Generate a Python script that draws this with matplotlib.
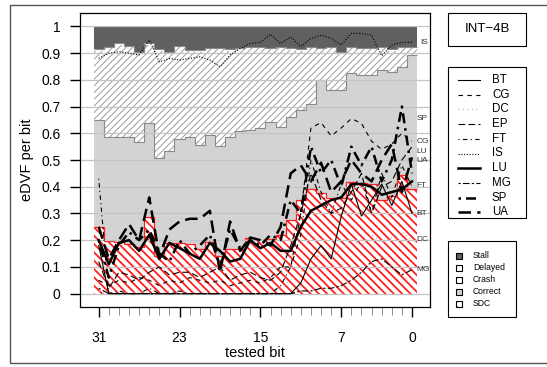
import numpy as np
import matplotlib.pyplot as plt
from matplotlib.patches import Rectangle
from matplotlib.lines import Line2D

plt.rcParams['font.family'] = ['Liberation Sans', 'DejaVu Sans']

# bits shown left to right
bits = np.arange(31, -1, -1)

# outcome fractions per bit, stacked bottom to top
sdc = [0.250, 0.197, 0.195, 0.187, 0.175, 0.287, 0.140, 0.190, 0.191, 0.185, 0.168,
       0.193, 0.140, 0.168, 0.168, 0.210, 0.200, 0.205, 0.218, 0.275, 0.350, 0.393,
       0.377, 0.356, 0.356, 0.418, 0.415, 0.409, 0.352, 0.364, 0.443, 0.393]
correct = [0.399, 0.390, 0.392, 0.400, 0.393, 0.352, 0.366, 0.344, 0.389, 0.402, 0.387,
           0.400, 0.413, 0.419, 0.441, 0.404, 0.418, 0.438, 0.406, 0.386, 0.337, 0.318,
           0.423, 0.405, 0.405, 0.406, 0.403, 0.409, 0.484, 0.466, 0.406, 0.500]
crash = [0.260, 0.332, 0.344, 0.335, 0.332, 0.292, 0.403, 0.366, 0.341, 0.319, 0.350,
         0.322, 0.362, 0.322, 0.306, 0.305, 0.301, 0.272, 0.295, 0.252, 0.222, 0.208,
         0.115, 0.158, 0.139, 0.095, 0.097, 0.097, 0.083, 0.079, 0.070, 0.026]
delayed = [0.005, 0.005, 0.005, 0.005, 0.005, 0.005, 0.005, 0.005, 0.005, 0.005, 0.005,
           0.005, 0.005, 0.005, 0.005, 0.005, 0.005, 0.005, 0.005, 0.005, 0.005, 0.005,
           0.005, 0.005, 0.005, 0.005, 0.005, 0.005, 0.005, 0.005, 0.005, 0.005]
stall = [0.086, 0.076, 0.064, 0.073, 0.095, 0.064, 0.086, 0.095, 0.074, 0.089, 0.090,
         0.080, 0.080, 0.086, 0.080, 0.076, 0.076, 0.080, 0.076, 0.082, 0.086, 0.076,
         0.080, 0.076, 0.095, 0.076, 0.080, 0.080, 0.076, 0.086, 0.076, 0.076]

# per-benchmark eDVF per bit
BT = [0.18, 0.0, 0.0, 0.0, 0.0, 0.0, 0.0, 0.0, 0.0, 0.0, 0.0, 0.0, 0.0, 0.0, 0.0, 0.0,
      0.0, 0.0, 0.0, 0.0, 0.04, 0.13, 0.18, 0.13, 0.29, 0.41, 0.29, 0.35, 0.41, 0.33, 0.42, 0.30]
CG = [0.05, 0.03, 0.05, 0.04, 0.06, 0.05, 0.03, 0.05, 0.04, 0.06, 0.05, 0.04, 0.05, 0.03, 0.04, 0.05,
      0.04, 0.06, 0.10, 0.10, 0.30, 0.62, 0.64, 0.59, 0.62, 0.655, 0.637, 0.57, 0.54, 0.56, 0.60, 0.57]
DC = [0.01, 0.0, 0.01, 0.0, 0.01, 0.0, 0.0, 0.01, 0.0, 0.0, 0.01, 0.0, 0.0, 0.0, 0.01, 0.0,
      0.0, 0.0, 0.02, 0.05, 0.08, 0.12, 0.15, 0.13, 0.17, 0.20, 0.18, 0.22, 0.19, 0.21, 0.23, 0.20]
EP = [0.12, 0.02, 0.08, 0.07, 0.05, 0.08, 0.10, 0.07, 0.08, 0.08, 0.06, 0.08, 0.10, 0.05, 0.07, 0.08,
      0.06, 0.05, 0.08, 0.18, 0.30, 0.45, 0.35, 0.30, 0.32, 0.38, 0.45, 0.30, 0.40, 0.42, 0.50, 0.55]
FT = [0.43, 0.0, 0.01, 0.0, 0.0, 0.02, 0.0, 0.0, 0.01, 0.0, 0.0, 0.0, 0.0, 0.0, 0.0, 0.0,
      0.0, 0.0, 0.03, 0.10, 0.22, 0.50, 0.38, 0.30, 0.41, 0.35, 0.42, 0.30, 0.45, 0.36, 0.48, 0.40]
IS = [0.88, 0.90, 0.905, 0.90, 0.893, 0.949, 0.867, 0.88, 0.874, 0.88, 0.886, 0.874, 0.849, 0.893, 0.917, 0.936,
      0.94, 0.97, 0.936, 0.96, 0.924, 0.955, 0.967, 0.955, 0.93, 0.974, 0.974, 0.967, 0.89, 0.93, 0.94, 0.94]
LU = [0.20, 0.11, 0.19, 0.20, 0.16, 0.22, 0.13, 0.19, 0.17, 0.15, 0.13, 0.19, 0.16, 0.12, 0.13, 0.20,
      0.17, 0.19, 0.16, 0.16, 0.25, 0.31, 0.33, 0.35, 0.36, 0.41, 0.41, 0.40, 0.37, 0.38, 0.39, 0.42]
MG = [0.02, 0.0, 0.0, 0.0, 0.0, 0.0, 0.0, 0.0, 0.0, 0.0, 0.0, 0.0, 0.0, 0.0, 0.0, 0.0,
      0.0, 0.0, 0.0, 0.0, 0.01, 0.01, 0.02, 0.02, 0.03, 0.05, 0.08, 0.12, 0.13, 0.10, 0.07, 0.09]
SP = [0.20, 0.06, 0.18, 0.23, 0.20, 0.24, 0.15, 0.12, 0.20, 0.15, 0.18, 0.22, 0.10, 0.24, 0.17, 0.20,
      0.18, 0.22, 0.20, 0.35, 0.30, 0.55, 0.45, 0.50, 0.40, 0.55, 0.48, 0.55, 0.42, 0.50, 0.70, 0.45]
UA = [0.25, 0.13, 0.20, 0.26, 0.20, 0.36, 0.14, 0.24, 0.27, 0.28, 0.28, 0.31, 0.08, 0.27, 0.16, 0.21,
      0.20, 0.18, 0.25, 0.45, 0.48, 0.42, 0.49, 0.38, 0.42, 0.50, 0.45, 0.42, 0.50, 0.56, 0.38, 0.51]

series = {"BT": BT, "CG": CG, "DC": DC, "EP": EP, "FT": FT,
          "IS": IS, "LU": LU, "MG": MG, "SP": SP, "UA": UA}

# line look for each benchmark: (color, width, dash)
styles = {
    "BT": ("black", 0.8, "-"),
    "CG": ("black", 0.8, (0, (4, 4))),
    "DC": ("#b0b0b0", 0.8, (0, (1, 3))),
    "EP": ("black", 0.8, (0, (6, 3))),
    "FT": ("black", 0.8, (0, (1, 3, 4, 3))),
    "IS": ("black", 0.8, (0, (1, 1.5))),
    "LU": ("black", 1.8, "-"),
    "MG": ("black", 0.8, (0, (2, 2, 6, 2))),
    "SP": ("black", 1.8, (0, (1, 2, 4, 2))),
    "UA": ("black", 1.8, (0, (5, 2.5))),
}

# where the names sit on the right edge
label_pos = {"IS": (-0.8, 0.938), "SP": (-0.42, 0.655), "CG": (-0.42, 0.568),
             "LU": (-0.42, 0.530), "UA": (-0.42, 0.497), "FT": (-0.42, 0.403),
             "BT": (-0.42, 0.300), "DC": (-0.42, 0.203), "MG": (-0.42, 0.091)}

W, H = 547, 367
fig = plt.figure(figsize=(W / 100, H / 100), dpi=100)
ax = fig.add_axes([80 / W, 60 / H, 350 / W, 294 / H])

# stairs need increasing edges, so flip the arrays
edges = np.arange(-0.5, 32.5, 1.0)
layers = [np.array(v)[::-1] for v in (sdc, correct, crash, delayed, stall)]
tops = np.cumsum(layers, axis=0)
bottoms = np.vstack([np.zeros(32), tops[:-1]])

sdc_fill = ax.stairs(tops[0], edges, baseline=bottoms[0], fill=True, facecolor="white",
                     edgecolor="#ff2020", hatch="\\\\\\\\", linewidth=0, zorder=1)
ax.stairs(tops[1], edges, baseline=bottoms[1], fill=True, facecolor="#d3d3d3",
          linewidth=0, zorder=1)
crash_fill = ax.stairs(tops[2], edges, baseline=bottoms[2], fill=True, facecolor="white",
                       edgecolor="#9c9c9c", hatch="/////", linewidth=0, zorder=1)
ax.stairs(tops[3], edges, baseline=bottoms[3], fill=True, facecolor="white",
          linewidth=0, zorder=1)
ax.stairs(tops[4], edges, baseline=bottoms[4], fill=True, facecolor="#606060",
          linewidth=0, zorder=1)
if hasattr(sdc_fill, "set_hatch_linewidth"):
    sdc_fill.set_hatch_linewidth(1.3)
    crash_fill.set_hatch_linewidth(0.7)

# outlines on top of each band
ax.stairs(tops[0], edges, baseline=None, color="#ff2020", linewidth=0.9, zorder=1.5)
ax.stairs(tops[1], edges, baseline=None, color="#8a8a8a", linewidth=0.8, zorder=1.5)
ax.stairs(tops[3], edges, baseline=None, color="#8a8a8a", linewidth=0.8, zorder=1.5)

for g in np.arange(0, 1.01, 0.1):
    ax.axhline(g, color="#c4c4c4", linewidth=0.9, zorder=2)

for name, vals in series.items():
    c, lw, ls = styles[name]
    ax.plot(bits, vals, color=c, linewidth=lw, linestyle=ls, zorder=3)

for name, (lx, ly) in label_pos.items():
    ax.text(lx, ly, name, fontsize=6, color="#333333", ha="left", va="center",
            clip_on=False, zorder=4)

ax.set_xlim(32.85, -1.78)
ax.set_ylim(-0.05, 1.05)
ax.set_xticks([31, 23, 15, 7, 0])
ax.set_xticks([b for b in range(32) if b not in (31, 23, 15, 7, 0)], minor=True)
ax.set_yticks(np.arange(0, 1.01, 0.1))
ax.set_yticklabels(["0", "0.1", "0.2", "0.3", "0.4", "0.5", "0.6", "0.7", "0.8", "0.9", "1"])
ax.tick_params(axis="x", which="major", length=7, width=1.0, pad=10, labelsize=10)
ax.tick_params(axis="x", which="minor", length=5.5, width=0.7, color="#8a8a8a")
ax.tick_params(axis="y", which="major", length=7, width=1.0, pad=7, labelsize=10)
for sp in ax.spines.values():
    sp.set_linewidth(0.9)

# frame, axis titles and the legends in pixel coordinates
ov = fig.add_axes([0, 0, 1, 1], zorder=5)
ov.set_xlim(0, W)
ov.set_ylim(H, 0)
ov.axis("off")
ov.add_patch(Rectangle((10, 5), 545, 358, fill=False, edgecolor="#555555", linewidth=1.0))
ov.text(27, 160, "eDVF per bit", rotation=90, fontsize=10.5, ha="center", va="center")
ov.text(255, 353, "tested bit", fontsize=10.5, ha="center", va="center")

ov.add_patch(Rectangle((448, 13), 78, 33, fill=False, edgecolor="black", linewidth=0.8))
ov.text(487, 29.5, "INT\u22124B", fontsize=9.5, ha="center", va="center")

ov.add_patch(Rectangle((448, 67), 78, 151, fill=False, edgecolor="black", linewidth=0.8))
for i, name in enumerate(series):
    y = 80 + i * 14.7
    c, lw, ls = styles[name]
    ov.add_line(Line2D([458, 480], [y, y], color=c, linewidth=lw, linestyle=ls))
    ov.text(492, y, name, fontsize=8.3, ha="left", va="center")

ov.add_patch(Rectangle((448, 241), 68, 76, fill=False, edgecolor="black", linewidth=0.8))
outcomes = ["Stall", "Delayed", "Crash", "Correct", "SDC"]
swatches = [dict(facecolor="#606060"), dict(facecolor="white"),
            dict(facecolor="white", hatch="//"), dict(facecolor="#d3d3d3"),
            dict(facecolor="white", hatch="\\\\")]
for i, (name, sw) in enumerate(zip(outcomes, swatches)):
    y = 256 + i * 12
    hatch_col = "#ff0000" if name == "SDC" else "#555555"
    ov.add_patch(Rectangle((456, y - 3), 6, 6, edgecolor=hatch_col, linewidth=0, **sw))
    ov.add_patch(Rectangle((456, y - 3), 6, 6, fill=False, edgecolor="black", linewidth=0.8))
    ov.text(473, y, name, fontsize=6.2, ha="left", va="center")

fig.savefig("out.png", dpi=100)
